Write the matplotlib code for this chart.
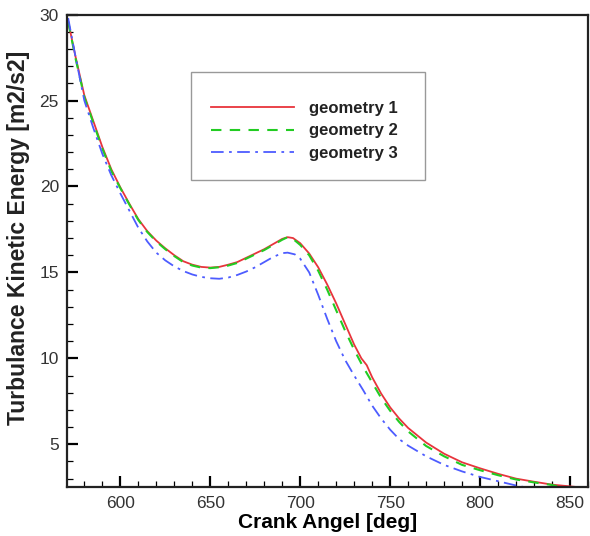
import matplotlib
matplotlib.use('Agg')
import matplotlib.pyplot as plt
from matplotlib.patches import Rectangle
from matplotlib.ticker import MultipleLocator

plt.rcParams['font.family'] = ['Liberation Sans', 'DejaVu Sans']

# geometry 1
x1 = [571, 575, 580, 585, 590, 595, 600, 605, 610, 615, 620, 625, 630, 635, 640, 645,
      650, 655, 660, 665, 670, 675, 680, 685, 690, 693, 696, 700, 705, 710, 715, 720,
      725, 730, 734, 737, 740, 745, 750, 755, 760, 770, 780, 790, 800, 810, 820, 830,
      840, 850, 860]
y1 = [29.6, 27.6, 25.3, 23.8, 22.3, 21.0, 19.95, 19.0, 18.1, 17.4, 16.85, 16.4, 16.0, 15.65, 15.45, 15.32,
      15.28, 15.32, 15.45, 15.6, 15.85, 16.1, 16.35, 16.65, 16.95, 17.05, 17.0, 16.7, 16.1, 15.3, 14.3, 13.2,
      12.0, 10.8, 10.0, 9.6, 8.9, 7.95, 7.15, 6.5, 5.95, 5.1, 4.45, 3.95, 3.6, 3.28, 3.0, 2.82,
      2.65, 2.55, 2.45]

# geometry 2
x2 = [571, 575, 580, 585, 590, 595, 600, 605, 610, 615, 620, 625, 630, 635, 640, 645,
      650, 655, 660, 665, 670, 675, 680, 685, 690, 693, 696, 700, 705, 710, 715, 720,
      725, 730, 735, 740, 745, 750, 755, 760, 770, 780, 790, 800, 810, 820, 830, 840, 845]
y2 = [29.6, 27.5, 25.2, 23.7, 22.2, 20.9, 19.9, 18.95, 18.05, 17.35, 16.8, 16.35, 15.95, 15.6, 15.4, 15.28,
      15.25, 15.3, 15.4, 15.55, 15.8, 16.05, 16.3, 16.6, 16.9, 17.05, 16.95, 16.6, 16.0, 15.1, 14.0, 12.8,
      11.6, 10.5, 9.5, 8.6, 7.7, 6.95, 6.3, 5.75, 4.9, 4.3, 3.8, 3.49, 3.2, 2.95, 2.78, 2.63, 2.5]

# geometry 3
x3 = [571, 575, 580, 585, 590, 595, 600, 605, 610, 615, 620, 625, 630, 635, 640, 645,
      650, 655, 660, 665, 670, 675, 680, 685, 690, 693, 697, 700, 705, 710, 715, 720,
      725, 730, 735, 740, 745, 750, 755, 760, 770, 780, 790, 800, 810, 820, 825]
y3 = [29.8, 27.6, 25.0, 23.4, 21.9, 20.65, 19.6, 18.6, 17.6, 16.8, 16.15, 15.7, 15.35, 15.08, 14.88, 14.74,
      14.66, 14.63, 14.7, 14.85, 15.05, 15.3, 15.6, 15.9, 16.12, 16.15, 16.05, 15.8, 15.0, 13.7, 12.3, 11.0,
      9.9, 9.0, 8.15, 7.25, 6.5, 5.85, 5.3, 4.92, 4.3, 3.8, 3.42, 3.1, 2.85, 2.6, 2.5]

labels = ['geometry 1', 'geometry 2', 'geometry 3']

fig = plt.figure(figsize=(5.9, 5.36), dpi=100)
ax = fig.add_axes([0.114, 0.091, 0.8826, 0.8817])

ax.plot(x1, y1, color='#e8343c', lw=1.3, label=labels[0])
ax.plot(x2, y2, color='#22cc22', lw=1.5, dashes=(5, 4), label=labels[1])
ax.plot(x3, y3, color='#4d5cff', lw=1.3, dashes=(7, 3, 1.5, 3), label=labels[2])

ax.set_xlim(570.5, 860)
ax.set_ylim(2.5, 30)
ax.xaxis.set_major_locator(MultipleLocator(50))
ax.xaxis.set_minor_locator(MultipleLocator(10))
ax.yaxis.set_major_locator(MultipleLocator(5))
ax.yaxis.set_minor_locator(MultipleLocator(1))
ax.tick_params(which='major', direction='in', length=8, width=1.6,
               labelsize=12.5, labelcolor='#333333', pad=6)
ax.tick_params(which='minor', direction='in', length=4.5, width=0.9)
for s in ax.spines.values():
    s.set_linewidth(1.6)
    s.set_color('#222222')

ax.set_xlabel('Crank Angel [deg]', fontsize=15, fontweight='bold', labelpad=2)
ax.set_ylabel('Turbulance Kinetic Energy [m2/s2]', fontsize=16.5, fontweight='bold',
              color='#222222')
ax.yaxis.set_label_coords(-0.072, 0.5275)

# legend box
ax.add_patch(Rectangle((0.2376, 0.650), 0.4494, 0.2294, transform=ax.transAxes,
                       fill=False, edgecolor='#999999', lw=1.0, zorder=4))
leg = ax.legend(loc='center', bbox_to_anchor=(0.455, 0.754), frameon=False,
                prop={'size': 12, 'weight': 'bold'}, handlelength=5.0,
                handletextpad=0.9, labelspacing=0.45)
for t in leg.get_texts():
    t.set_color('#222222')

fig.savefig('out.png', dpi=100)
